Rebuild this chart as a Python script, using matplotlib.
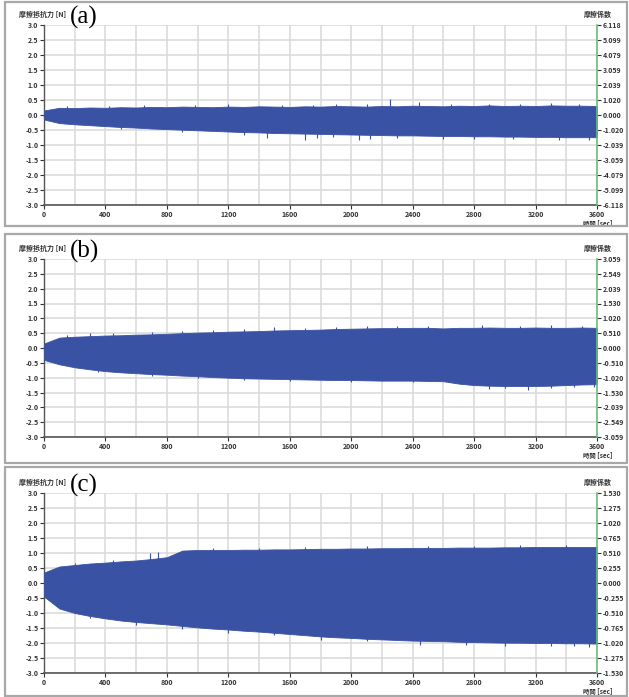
import matplotlib
matplotlib.use("Agg")
import matplotlib.pyplot as plt
from matplotlib.patches import Rectangle

plt.rcParams['font.family'] = ['Noto Sans CJK JP', 'DejaVu Sans']

# envelope of the friction force signal, read every 100 sec
tiempos = [0, 100, 200, 300, 400, 500, 600, 700, 800, 900, 1000, 1100, 1200,
           1300, 1400, 1500, 1600, 1700, 1800, 1900, 2000, 2100, 2200, 2300,
           2400, 2500, 2600, 2700, 2800, 2900, 3000, 3100, 3200, 3300, 3400,
           3500, 3600]

superior_a = [0.15, 0.24, 0.23, 0.25, 0.24, 0.26, 0.25, 0.27, 0.26, 0.28, 0.27,
              0.26, 0.28, 0.27, 0.29, 0.28, 0.27, 0.29, 0.28, 0.30, 0.29, 0.28,
              0.30, 0.29, 0.31, 0.30, 0.29, 0.31, 0.30, 0.32, 0.30, 0.31, 0.30,
              0.32, 0.31, 0.31, 0.30]
inferior_a = [-0.15, -0.27, -0.31, -0.34, -0.37, -0.40, -0.42, -0.45, -0.47,
              -0.49, -0.51, -0.53, -0.55, -0.57, -0.58, -0.60, -0.61, -0.62,
              -0.63, -0.64, -0.65, -0.66, -0.67, -0.68, -0.68, -0.69, -0.70,
              -0.70, -0.71, -0.71, -0.72, -0.72, -0.73, -0.73, -0.74, -0.74,
              -0.74]

superior_b = [0.15, 0.35, 0.38, 0.40, 0.42, 0.43, 0.45, 0.46, 0.48, 0.50, 0.52,
              0.53, 0.55, 0.56, 0.57, 0.59, 0.60, 0.61, 0.62, 0.64, 0.65, 0.66,
              0.67, 0.67, 0.68, 0.68, 0.66, 0.68, 0.68, 0.69, 0.68, 0.68, 0.69,
              0.68, 0.68, 0.69, 0.68]
inferior_b = [-0.40, -0.55, -0.65, -0.72, -0.78, -0.82, -0.85, -0.88, -0.90,
              -0.93, -0.95, -0.98, -1.00, -1.02, -1.03, -1.04, -1.05, -1.06,
              -1.07, -1.08, -1.08, -1.09, -1.10, -1.10, -1.10, -1.11, -1.12,
              -1.20, -1.25, -1.27, -1.28, -1.28, -1.28, -1.27, -1.25, -1.23,
              -1.22]

superior_c = [0.35, 0.55, 0.60, 0.65, 0.68, 0.72, 0.75, 0.80, 0.86, 1.08, 1.10,
              1.10, 1.10, 1.11, 1.11, 1.12, 1.12, 1.13, 1.14, 1.14, 1.15, 1.15,
              1.16, 1.16, 1.17, 1.17, 1.17, 1.18, 1.18, 1.18, 1.19, 1.19, 1.20,
              1.20, 1.20, 1.20, 1.20]
inferior_c = [-0.45, -0.85, -1.00, -1.10, -1.18, -1.25, -1.30, -1.34, -1.38,
              -1.43, -1.48, -1.52, -1.55, -1.59, -1.62, -1.66, -1.70, -1.74,
              -1.78, -1.81, -1.83, -1.86, -1.88, -1.90, -1.92, -1.93, -1.94,
              -1.96, -1.97, -1.98, -1.99, -1.99, -2.00, -2.00, -2.01, -2.01,
              -2.02]

# isolated peaks (time, force)
picos_a = [(2250, 0.55), (2440, 0.42), (1900, 0.38), (2900, 0.38), (1200, 0.36),
           (650, 0.33), (3300, 0.40), (150, 0.30), (420, 0.31), (980, 0.34),
           (1550, 0.35), (1750, 0.34), (2100, 0.36), (2650, 0.37), (3100, 0.37),
           (3480, 0.38), (1450, -0.78), (1700, -0.82), (1780, -0.78),
           (2050, -0.84), (2120, -0.80), (3350, -0.84), (2600, -0.80),
           (900, -0.58), (1300, -0.66), (1880, -0.74), (2300, -0.76),
           (2800, -0.79), (3050, -0.80), (3550, -0.82), (500, -0.46)]
picos_b = [(300, 0.50), (700, 0.53), (1100, 0.62), (1500, 0.70), (1900, 0.72),
           (2300, 0.75), (3100, 0.74), (3500, 0.75), (150, 0.45), (450, 0.50),
           (900, 0.58), (1300, 0.63), (1700, 0.68), (2100, 0.73), (2500, 0.75),
           (2850, 0.76), (3300, 0.76), (2650, -1.05), (2900, -1.38),
           (3150, -1.40), (3300, -1.36), (1300, -1.08), (700, -0.95),
           (350, -0.82), (1000, -1.02), (1600, -1.12), (2000, -1.15),
           (2400, -1.16), (3000, -1.35), (3450, -1.33), (3580, -1.30)]
picos_c = [(690, 1.00), (740, 1.02), (1400, 1.18), (2100, 1.22), (2800, 1.25),
           (3400, 1.27), (200, 0.68), (450, 0.76), (1100, 1.16), (1700, 1.19),
           (2500, 1.23), (3100, 1.26), (3000, -2.10), (2450, -2.05),
           (3300, -2.10), (1800, -1.90), (1200, -1.65), (600, -1.40),
           (3550, -2.12), (300, -1.18), (900, -1.52), (1500, -1.73),
           (2100, -1.94), (2750, -2.06), (3450, -2.10)]

# friction coefficient ranges (right axis)
coef_max = [6.118, 3.059, 1.530]
coef_rotulos = [
    ["6.118", "5.099", "4.079", "3.059", "2.039", "1.020", "0.000", "-1.020",
     "-2.039", "-3.059", "-4.079", "-5.099", "-6.118"],
    ["3.059", "2.549", "2.039", "1.530", "1.020", "0.510", "0.000", "-0.510",
     "-1.020", "-1.530", "-2.039", "-2.549", "-3.059"],
    ["1.530", "1.275", "1.020", "0.765", "0.510", "0.255", "0.000", "-0.255",
     "-0.510", "-0.765", "-1.020", "-1.275", "-1.530"],
]
forca_ticks = [3.0, 2.5, 2.0, 1.5, 1.0, 0.5, 0.0, -0.5, -1.0, -1.5, -2.0, -2.5, -3.0]
tempo_ticks = [0, 400, 800, 1200, 1600, 2000, 2400, 2800, 3200, 3600]
tempo_grade = [200, 600, 1000, 1400, 1800, 2200, 2600, 3000, 3400]
letras = ["(a)", "(b)", "(c)"]

azul = "#3a52a3"
cinza_texto = "#333333"

fig = plt.figure(figsize=(6.29, 6.97), dpi=100)

# panel frames (pixel boxes of the screenshots)
molduras = [(5, 2, 627, 226), (5, 234, 627, 463), (5, 467, 627, 696)]
for x0, y0, x1, y1 in molduras:
    fig.patches.append(Rectangle((x0 / 629, 1 - y1 / 697), (x1 - x0) / 629, (y1 - y0) / 697,
                                 transform=fig.transFigure, fill=False,
                                 edgecolor="#a8a8a8", linewidth=1.6))

eixos_px = [(25, 205), (259, 437), (493, 673)]
envelopes = [(superior_a, inferior_a, picos_a), (superior_b, inferior_b, picos_b),
             (superior_c, inferior_c, picos_c)]

for i in range(3):
    topo, base = eixos_px[i]
    ax = fig.add_axes([44 / 629, 1 - base / 697, 553 / 629, (base - topo) / 697])
    sup, inf, picos = envelopes[i]

    ax.fill_between(tiempos, inf, sup, color=azul, linewidth=0.6, edgecolor=azul, zorder=3)
    for t, v in picos:
        ax.vlines(t, 0, v, color=azul, linewidth=0.8, zorder=3)

    ax.set_xlim(0, 3600)
    ax.set_ylim(-3.0, 3.0)
    ax.set_yticks(forca_ticks)
    ax.set_yticklabels([f"{v:.1f}" for v in forca_ticks])
    ax.set_xticks(tempo_ticks)
    ax.set_xticks(tempo_grade, minor=True)
    ax.grid(True, which="both", color="#d9d9d9", linewidth=1.1, zorder=0)
    ax.set_axisbelow(True)
    ax.tick_params(axis="both", which="major", labelsize=5, colors=cinza_texto,
                   length=3, width=0.8, pad=1)
    ax.tick_params(axis="x", which="minor", length=0)
    for rot in ax.get_xticklabels() + ax.get_yticklabels():
        rot.set_fontweight("bold")
    ax.spines["top"].set_visible(False)
    ax.spines["right"].set_visible(False)
    ax.spines["left"].set_color("#555555")
    ax.spines["bottom"].set_color("#555555")
    ax.spines["left"].set_linewidth(1.0)
    ax.spines["bottom"].set_linewidth(1.2)

    ax2 = ax.twinx()
    ax2.set_ylim(-coef_max[i], coef_max[i])
    ax2.set_yticks([coef_max[i] * v / 3.0 for v in forca_ticks])
    ax2.set_yticklabels(coef_rotulos[i])
    ax2.tick_params(axis="y", labelsize=5, colors=cinza_texto, length=3, width=0.8, pad=1)
    for rot in ax2.get_yticklabels():
        rot.set_fontweight("bold")
    for lado in ["top", "left", "bottom"]:
        ax2.spines[lado].set_visible(False)
    ax2.spines["right"].set_color("#6cbf7a")
    ax2.spines["right"].set_linewidth(1.2)

    ax.text(-0.045, 1.06, "摩擦抵抗力 [N]", transform=ax.transAxes, fontsize=5,
            fontweight="bold", color=cinza_texto, ha="left", va="center")
    ax.text(1.002, 1.06, "摩擦係数", transform=ax.transAxes, fontsize=5,
            fontweight="bold", color=cinza_texto, ha="center", va="center")
    ax.text(1.002, -0.105, "時間 [sec]", transform=ax.transAxes, fontsize=4.6,
            fontweight="bold", color=cinza_texto, ha="center", va="center")
    ax.text(0.047, 1.04, letras[i], transform=ax.transAxes, fontsize=18,
            family="Liberation Serif", color="black", ha="left", va="center")

plt.savefig("out.png", dpi=100)
